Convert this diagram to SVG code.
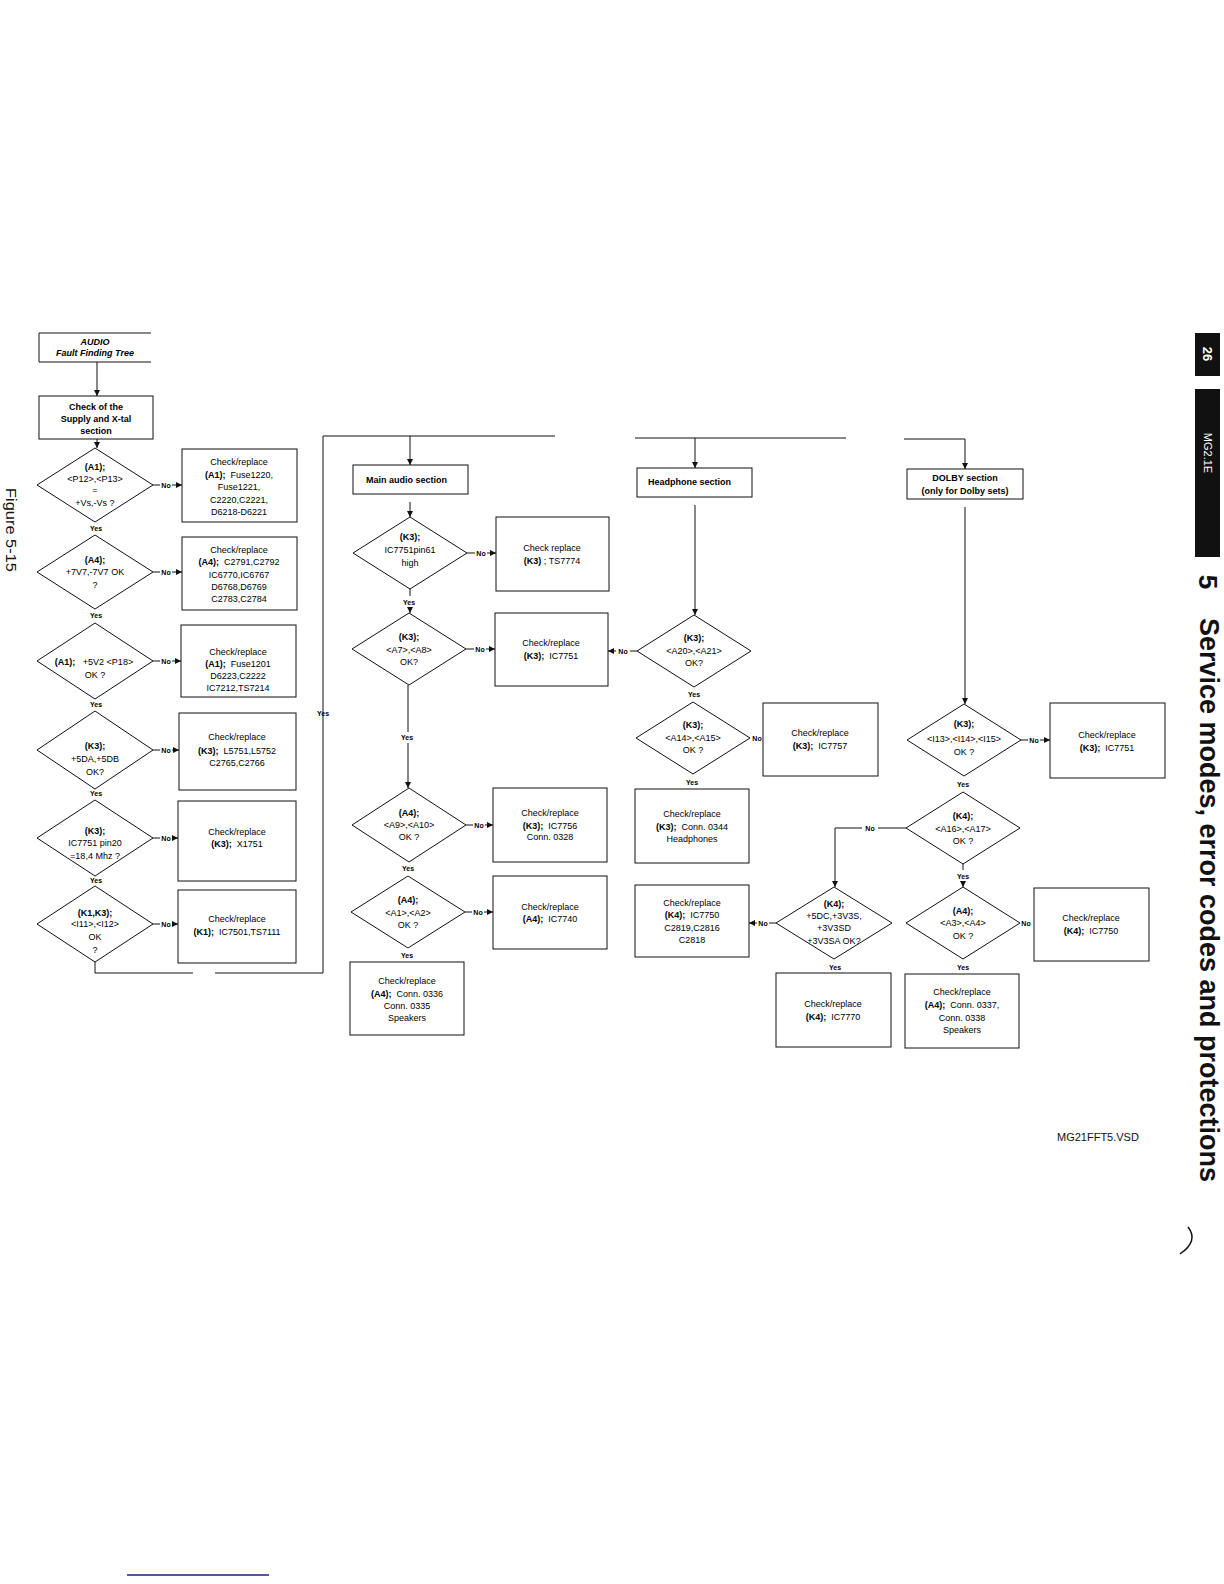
<svg xmlns="http://www.w3.org/2000/svg" width="1224" height="1584" viewBox="0 0 1224 1584">
<style>
.t{font-family:"Liberation Sans",Arial,sans-serif;font-size:9px;text-anchor:middle;fill:#000}
.b{font-weight:bold}
.l{font-family:"Liberation Sans",Arial,sans-serif;font-size:7px;font-weight:bold;text-anchor:middle;fill:#000}
.s{font-family:"Liberation Sans",Arial,sans-serif;font-size:9px;font-weight:bold;fill:#000}
.bx{fill:#fff;stroke:#111;stroke-width:1}
.ln{fill:none;stroke:#111;stroke-width:1}
.ar{fill:none;stroke:#111;stroke-width:1;marker-end:url(#ah)}
</style>
<defs>
<marker id="ah" viewBox="0 0 6 6" refX="6" refY="3" markerWidth="6" markerHeight="6" orient="auto" markerUnits="userSpaceOnUse"><path d="M0,0 L6,3 L0,6 Z" fill="#111"/></marker>
</defs>
<rect width="1224" height="1584" fill="#fff"/>

<g id="connectors">
<path class="ar" d="M97,362 V396"/>
<path class="ar" d="M97,439 V448"/>
<path class="ln" d="M153,485 H160"/><path class="ar" d="M172,485 H182"/>
<path class="ln" d="M153,572 H160"/><path class="ar" d="M172,572 H182"/>
<path class="ln" d="M153,661 H160"/><path class="ar" d="M172,661 H181"/>
<path class="ln" d="M153,750 H160"/><path class="ar" d="M172,750 H179"/>
<path class="ln" d="M153,838 H160"/><path class="ar" d="M172,838 H178"/>
<path class="ln" d="M153,924 H160"/><path class="ar" d="M172,924 H178"/>
<path class="ln" d="M95,962 V973 H193"/>
<path class="ln" d="M215,973 H323 V436 H555"/>
<path class="ar" d="M410,436 V465"/>
<path class="ar" d="M410,502 V517"/>
<path class="ln" d="M467,553 H475"/><path class="ar" d="M487,553 H496"/>
<path class="ln" d="M410,589 V596"/><path class="ar" d="M410,607 V613"/>
<path class="ln" d="M466,649 H474"/><path class="ar" d="M486,649 H495"/>
<path class="ln" d="M408,685 V732"/><path class="ar" d="M408,743 V788"/>
<path class="ln" d="M466,825 H473"/><path class="ar" d="M485,825 H493"/>
<path class="ln" d="M465,912 H472"/><path class="ar" d="M484,912 H493"/>
<path class="ln" d="M635,438 H846"/>
<path class="ar" d="M695,438 V468"/>
<path class="ar" d="M695,505 V615"/>
<path class="ln" d="M637,651 H630"/><path class="ar" d="M616,651 H608"/>
<path class="ln" d="M776,923 H769"/><path class="ar" d="M757,923 H749"/>
<path class="ln" d="M906,828 H878"/><path class="ar" d="M862,828 H835 V887"/>
<path class="ar" d="M904,439 H965 V469"/>
<path class="ar" d="M965,507 V704"/>
<path class="ln" d="M1021,740 H1028"/><path class="ar" d="M1040,740 H1050"/>
<path class="ln" d="M963,864 V870"/><path class="ar" d="M963,882 V887"/>
<text class="l" x="166" y="487.5">No</text>
<text class="l" x="166" y="574.5">No</text>
<text class="l" x="166" y="663.5">No</text>
<text class="l" x="166" y="752.5">No</text>
<text class="l" x="166" y="840.5">No</text>
<text class="l" x="166" y="926.5">No</text>
<text class="l" x="96" y="531">Yes</text>
<text class="l" x="96" y="618">Yes</text>
<text class="l" x="96" y="707">Yes</text>
<text class="l" x="96" y="796">Yes</text>
<text class="l" x="96" y="883">Yes</text>
<text class="l" x="323" y="716">Yes</text>
<text class="l" x="481" y="555.5">No</text>
<text class="l" x="480" y="651.5">No</text>
<text class="l" x="479" y="827.5">No</text>
<text class="l" x="478" y="914.5">No</text>
<text class="l" x="409" y="605">Yes</text>
<text class="l" x="407" y="740">Yes</text>
<text class="l" x="408" y="871">Yes</text>
<text class="l" x="407" y="958">Yes</text>
<text class="l" x="623" y="653.5">No</text>
<text class="l" x="694" y="697">Yes</text>
<text class="l" x="757" y="740.5">No</text>
<text class="l" x="692" y="785">Yes</text>
<text class="l" x="763" y="925.5">No</text>
<text class="l" x="835" y="970">Yes</text>
<text class="l" x="870" y="830.5">No</text>
<text class="l" x="1034" y="742.5">No</text>
<text class="l" x="963" y="787">Yes</text>
<text class="l" x="963" y="879">Yes</text>
<text class="l" x="1026" y="925.5">No</text>
<text class="l" x="963" y="970">Yes</text>
</g>

<g id="audio-title">
<path class="ln" d="M151,333 H39 V362 H151"/>
<text class="t b" x="95" y="345" font-style="italic">AUDIO</text>
<text class="t b" x="95" y="356" font-style="italic">Fault Finding Tree</text>
</g>
<g id="supply">
<rect class="bx" x="39" y="396" width="114" height="43"/>
<text class="t b" x="96" y="410">Check of the</text>
<text class="t b" x="96" y="422">Supply and X-tal</text>
<text class="t b" x="96" y="434">section</text>
</g>
<g id="d1">
<polygon class="bx" points="37,485 95,448 153,485 95,522"/>
<text class="t b" x="95" y="470">(A1);</text>
<text class="t" x="95" y="482">&lt;P12&gt;,&lt;P13&gt;</text>
<text class="t" x="95" y="493">=</text>
<text class="t" x="95" y="506">+Vs,-Vs ?</text>
</g>
<g id="b1">
<rect class="bx" x="182" y="449" width="115" height="73"/>
<text class="t" x="239" y="465">Check/replace</text>
<text class="t" x="239" y="478"><tspan class="b">(A1);</tspan>&#160; Fuse1220,</text>
<text class="t" x="239" y="490">Fuse1221,</text>
<text class="t" x="239" y="503">C2220,C2221,</text>
<text class="t" x="239" y="515">D6218-D6221</text>
</g>
<g id="d2">
<polygon class="bx" points="37,572 95,535 153,572 95,609"/>
<text class="t b" x="95" y="563">(A4);</text>
<text class="t" x="95" y="575">+7V7,-7V7 OK</text>
<text class="t" x="95" y="588">?</text>
</g>
<g id="b2">
<rect class="bx" x="182" y="537" width="115" height="73"/>
<text class="t" x="239" y="553">Check/replace</text>
<text class="t" x="239" y="565"><tspan class="b">(A4);</tspan>&#160; C2791,C2792</text>
<text class="t" x="239" y="578">IC6770,IC6767</text>
<text class="t" x="239" y="590">D6768,D6769</text>
<text class="t" x="239" y="602">C2783,C2784</text>
</g>
<g id="d3">
<polygon class="bx" points="37,661 95,623 153,661 95,699"/>
<text class="t" x="94" y="665"><tspan class="b">(A1);</tspan>&#160;&#160; +5V2 &lt;P18&gt;</text>
<text class="t" x="95" y="678">OK ?</text>
</g>
<g id="b3">
<rect class="bx" x="181" y="625" width="115" height="72"/>
<text class="t" x="238" y="655">Check/replace</text>
<text class="t" x="238" y="667"><tspan class="b">(A1);</tspan>&#160; Fuse1201</text>
<text class="t" x="238" y="679">D6223,C2222</text>
<text class="t" x="238" y="691">IC7212,TS7214</text>
</g>
<g id="d4">
<polygon class="bx" points="37,750 95,711 153,750 95,789"/>
<text class="t b" x="95" y="749">(K3);</text>
<text class="t" x="95" y="762">+5DA,+5DB</text>
<text class="t" x="95" y="775">OK?</text>
</g>
<g id="b4">
<rect class="bx" x="179" y="713" width="117" height="77"/>
<text class="t" x="237" y="740">Check/replace</text>
<text class="t" x="237" y="754"><tspan class="b">(K3);</tspan>&#160; L5751,L5752</text>
<text class="t" x="237" y="766">C2765,C2766</text>
</g>
<g id="d5">
<polygon class="bx" points="37,838 95,800 153,838 95,876"/>
<text class="t b" x="95" y="834">(K3);</text>
<text class="t" x="95" y="846">IC7751 pin20</text>
<text class="t" x="95" y="859">=18,4 Mhz ?</text>
</g>
<g id="b5">
<rect class="bx" x="178" y="801" width="118" height="80"/>
<text class="t" x="237" y="835">Check/replace</text>
<text class="t" x="237" y="847"><tspan class="b">(K3);</tspan>&#160; X1751</text>
</g>
<g id="d6">
<polygon class="bx" points="37,924 95,886 153,924 95,962"/>
<text class="t b" x="95" y="916">(K1,K3);</text>
<text class="t" x="95" y="927">&lt;I11&gt;,&lt;I12&gt;</text>
<text class="t" x="95" y="940">OK</text>
<text class="t" x="95" y="953">?</text>
</g>
<g id="b6">
<rect class="bx" x="178" y="890" width="118" height="73"/>
<text class="t" x="237" y="922">Check/replace</text>
<text class="t" x="237" y="935"><tspan class="b">(K1);</tspan>&#160; IC7501,TS7111</text>
</g>

<g id="main-audio">
<rect class="bx" x="353" y="465" width="115" height="29"/>
<text class="s" x="366" y="483">Main audio section</text>
</g>
<g id="d7">
<polygon class="bx" points="353,553 410,517 467,553 410,589"/>
<text class="t b" x="410" y="540">(K3);</text>
<text class="t" x="410" y="553">IC7751pin61</text>
<text class="t" x="410" y="566">high</text>
</g>
<g id="b7">
<rect class="bx" x="496" y="517" width="113" height="74"/>
<text class="t" x="552" y="551">Check replace</text>
<text class="t" x="552" y="564"><tspan class="b">(K3)</tspan> ; TS7774</text>
</g>
<g id="d8">
<polygon class="bx" points="352,649 409,613 466,649 409,685"/>
<text class="t b" x="409" y="640">(K3);</text>
<text class="t" x="409" y="653">&lt;A7&gt;,&lt;A8&gt;</text>
<text class="t" x="409" y="665">OK?</text>
</g>
<g id="b8">
<rect class="bx" x="495" y="613" width="113" height="73"/>
<text class="t" x="551" y="646">Check/replace</text>
<text class="t" x="551" y="659"><tspan class="b">(K3);</tspan>&#160; IC7751</text>
</g>
<g id="d9">
<polygon class="bx" points="352,825 409,788 466,825 409,862"/>
<text class="t b" x="409" y="816">(A4);</text>
<text class="t" x="409" y="828">&lt;A9&gt;,&lt;A10&gt;</text>
<text class="t" x="409" y="840">OK ?</text>
</g>
<g id="b9">
<rect class="bx" x="493" y="788" width="114" height="74"/>
<text class="t" x="550" y="816">Check/replace</text>
<text class="t" x="550" y="829"><tspan class="b">(K3);</tspan>&#160; IC7756</text>
<text class="t" x="550" y="840">Conn. 0328</text>
</g>
<g id="d10">
<polygon class="bx" points="351,912 408,876 465,912 408,948"/>
<text class="t b" x="408" y="903">(A4);</text>
<text class="t" x="408" y="916">&lt;A1&gt;,&lt;A2&gt;</text>
<text class="t" x="408" y="928">OK ?</text>
</g>
<g id="b10">
<rect class="bx" x="493" y="876" width="114" height="73"/>
<text class="t" x="550" y="910">Check/replace</text>
<text class="t" x="550" y="922"><tspan class="b">(A4);</tspan>&#160; IC7740</text>
</g>
<g id="b11">
<rect class="bx" x="350" y="962" width="114" height="73"/>
<text class="t" x="407" y="984">Check/replace</text>
<text class="t" x="407" y="997"><tspan class="b">(A4);</tspan>&#160; Conn. 0336</text>
<text class="t" x="407" y="1009">Conn. 0335</text>
<text class="t" x="407" y="1021">Speakers</text>
</g>

<g id="headphone">
<rect class="bx" x="637" y="468" width="115" height="29"/>
<text class="s" x="648" y="485">Headphone section</text>
</g>
<g id="d12">
<polygon class="bx" points="637,651 694,615 751,651 694,687"/>
<text class="t b" x="694" y="641">(K3);</text>
<text class="t" x="694" y="654">&lt;A20&gt;,&lt;A21&gt;</text>
<text class="t" x="694" y="666">OK?</text>
</g>
<g id="d13">
<polygon class="bx" points="636,738 693,702 750,738 693,774"/>
<text class="t b" x="693" y="728">(K3);</text>
<text class="t" x="693" y="741">&lt;A14&gt;,&lt;A15&gt;</text>
<text class="t" x="693" y="753">OK ?</text>
</g>
<g id="b13">
<rect class="bx" x="763" y="703" width="115" height="73"/>
<text class="t" x="820" y="736">Check/replace</text>
<text class="t" x="820" y="749"><tspan class="b">(K3);</tspan>&#160; IC7757</text>
</g>
<g id="b14">
<rect class="bx" x="635" y="789" width="114" height="74"/>
<text class="t" x="692" y="817">Check/replace</text>
<text class="t" x="692" y="830"><tspan class="b">(K3);</tspan>&#160; Conn. 0344</text>
<text class="t" x="692" y="842">Headphones</text>
</g>
<g id="b15">
<rect class="bx" x="635" y="885" width="114" height="72"/>
<text class="t" x="692" y="906">Check/replace</text>
<text class="t" x="692" y="918"><tspan class="b">(K4);</tspan>&#160; IC7750</text>
<text class="t" x="692" y="931">C2819,C2816</text>
<text class="t" x="692" y="943">C2818</text>
</g>
<g id="d16">
<polygon class="bx" points="776,923 834,887 892,923 834,959"/>
<text class="t b" x="834" y="907">(K4);</text>
<text class="t" x="834" y="919">+5DC,+3V3S,</text>
<text class="t" x="834" y="931">+3V3SD</text>
<text class="t" x="834" y="944">+3V3SA OK?</text>
</g>
<g id="b17">
<rect class="bx" x="776" y="973" width="115" height="74"/>
<text class="t" x="833" y="1007">Check/replace</text>
<text class="t" x="833" y="1020"><tspan class="b">(K4);</tspan>&#160; IC7770</text>
</g>

<g id="dolby">
<rect class="bx" x="907" y="469" width="116" height="30"/>
<text class="t b" x="965" y="481">DOLBY section</text>
<text class="t b" x="965" y="494">(only for Dolby sets)</text>
</g>
<g id="d18">
<polygon class="bx" points="907,740 964,704 1021,740 964,776"/>
<text class="t b" x="964" y="727">(K3);</text>
<text class="t" x="964" y="742">&lt;I13&gt;,&lt;I14&gt;,&lt;I15&gt;</text>
<text class="t" x="964" y="755">OK ?</text>
</g>
<g id="b18">
<rect class="bx" x="1050" y="703" width="115" height="75"/>
<text class="t" x="1107" y="738">Check/replace</text>
<text class="t" x="1107" y="751"><tspan class="b">(K3);</tspan>&#160; IC7751</text>
</g>
<g id="d19">
<polygon class="bx" points="906,828 963,792 1020,828 963,864"/>
<text class="t b" x="963" y="819">(K4);</text>
<text class="t" x="963" y="832">&lt;A16&gt;,&lt;A17&gt;</text>
<text class="t" x="963" y="844">OK ?</text>
</g>
<g id="d20">
<polygon class="bx" points="906,923 963,887 1020,923 963,959"/>
<text class="t b" x="963" y="914">(A4);</text>
<text class="t" x="963" y="926">&lt;A3&gt;,&lt;A4&gt;</text>
<text class="t" x="963" y="939">OK ?</text>
</g>
<g id="b20">
<rect class="bx" x="1034" y="888" width="115" height="73"/>
<text class="t" x="1091" y="921">Check/replace</text>
<text class="t" x="1091" y="934"><tspan class="b">(K4);</tspan>&#160; IC7750</text>
</g>
<g id="b21">
<rect class="bx" x="905" y="974" width="114" height="74"/>
<text class="t" x="962" y="995">Check/replace</text>
<text class="t" x="962" y="1008"><tspan class="b">(A4);</tspan>&#160; Conn. 0337,</text>
<text class="t" x="962" y="1021">Conn. 0338</text>
<text class="t" x="962" y="1033">Speakers</text>
</g>

<g id="page">
<rect x="1195" y="333" width="25" height="43" fill="#111"/>
<text transform="translate(1203,354) rotate(90)" font-family="Liberation Sans,Arial,sans-serif" font-size="13" font-weight="bold" fill="#fff" text-anchor="middle">26</text>
<rect x="1195" y="389" width="25" height="168" fill="#111"/>
<text transform="translate(1204,453) rotate(90)" font-family="Liberation Sans,Arial,sans-serif" font-size="11" fill="#fff" text-anchor="middle">MG2.1E</text>
<text transform="translate(1199,582) rotate(90)" font-family="Liberation Sans,Arial,sans-serif" font-size="26" font-weight="bold" fill="#111" text-anchor="middle">5</text>
<text transform="translate(1200,618) rotate(90)" font-family="Liberation Sans,Arial,sans-serif" font-size="27" font-weight="bold" fill="#111" textLength="564" lengthAdjust="spacingAndGlyphs">Service modes, error codes and protections</text>
<text transform="translate(6,488) rotate(90)" font-family="Liberation Sans,Arial,sans-serif" font-size="15" fill="#111" textLength="84" lengthAdjust="spacingAndGlyphs">Figure 5-15</text>
<text x="1057" y="1141" font-family="Liberation Sans,Arial,sans-serif" font-size="11" fill="#111">MG21FFT5.VSD</text>
<path d="M1188,1227 Q1199,1241 1180,1254" fill="none" stroke="#111" stroke-width="1.5"/>
<path d="M127,1575 H269" stroke="#1c1c80" stroke-width="1.5"/>
</g>
</svg>
